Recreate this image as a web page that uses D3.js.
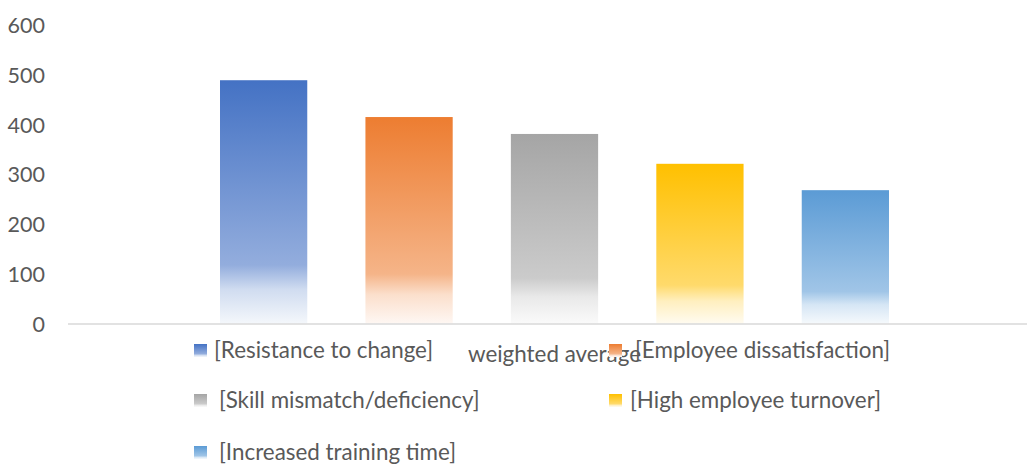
<!DOCTYPE html>
<html><head><meta charset="utf-8">
<script src="https://cdn.jsdelivr.net/npm/d3@7"></script>
<style>html,body{margin:0;padding:0;background:#fff;}svg{display:block;}</style>
</head><body>
<svg id="chart" width="1027" height="464"></svg>
<script>
const categories = ["weighted average"];
const seriesNames = ["[Resistance to change]","[Employee dissatisfaction]","[Skill mismatch/deficiency]","[High employee turnover]","[Increased training time]"];
const seriesValues = [489, 415, 381, 321, 268];
const seriesColors = ["#4472C4","#ED7D31","#A5A5A5","#FFC000","#5B9BD5"];
const yTicks = [0,100,200,300,400,500,600];

const svg = d3.select("#chart");
const font = "Lato, 'Liberation Sans', sans-serif";
const textColor = "#595959";

const y = d3.scaleLinear().domain([0,600]).range([323.5,25]);
const x = d3.scaleBand().domain(seriesNames).range([220,889]).paddingInner(0.4).paddingOuter(0);

// gradients
const defs = svg.append("defs");
seriesColors.forEach((c,i)=>{
  const g = defs.append("linearGradient").attr("id","grad"+i).attr("x1",0).attr("y1",0).attr("x2",0).attr("y2",1);
  const mix = t => d3.interpolateRgb(c,"#ffffff")(t);
  [[0,0],[0.76,0.42],[0.86,0.75],[1,0.94]].forEach(([o,t])=>{
    g.append("stop").attr("offset",o).attr("stop-color",mix(t));
  });
});

// y axis labels
const yAxis = d3.axisLeft(y).tickValues(yTicks).tickSize(0).tickPadding(0);
const ya = svg.append("g").attr("transform","translate(45,0)").call(yAxis);
ya.select(".domain").remove();
ya.selectAll("text").attr("font-family",font).attr("font-size","21.5px").attr("fill",textColor).attr("dy","0.35em");

// bars
svg.append("g").selectAll("rect").data(seriesValues).join("rect")
  .attr("x",(d,i)=>x(seriesNames[i]))
  .attr("width",x.bandwidth())
  .attr("y",d=>y(d))
  .attr("height",d=>y(0)-y(d))
  .attr("fill",(d,i)=>"url(#grad"+i+")");

// x axis line
svg.append("line").attr("x1",68).attr("x2",1041).attr("y1",y(0)+0.5).attr("y2",y(0)+0.5)
  .attr("stroke","#D9D9D9").attr("stroke-width",1.5);

// category label
svg.append("text").attr("x",(x.range()[0]+x.range()[1])/2).attr("y",362)
  .attr("text-anchor","middle").attr("font-family",font).attr("font-size","22.4px").attr("fill",textColor)
  .text(categories[0]);

// legend
const colX = [194, 609];
const rowY = [350, 400, 452];
const textOff = [20, 26, 25, 21, 25];
const lg = svg.append("g");
seriesNames.forEach((n,i)=>{
  const cx = colX[i%2], cy = rowY[Math.floor(i/2)];
  lg.append("rect").attr("x",cx).attr("y",cy-6).attr("width",13).attr("height",13).attr("fill","url(#grad"+i+")");
  lg.append("text").attr("x",cx+textOff[i]).attr("y",cy+7.5).attr("font-family",font).attr("font-size","22.4px").attr("fill",textColor).text(n);
});
</script>
</body></html>
